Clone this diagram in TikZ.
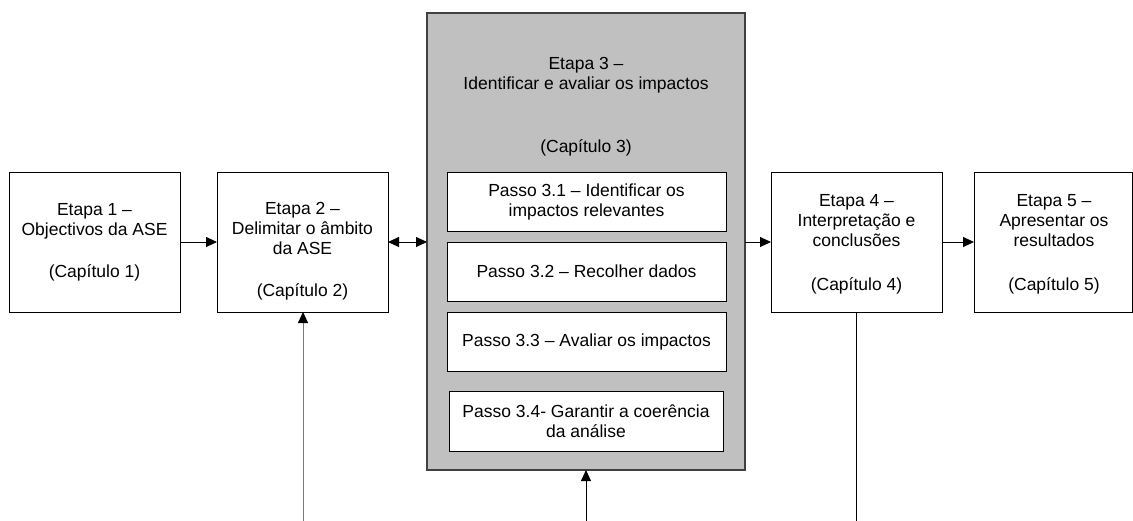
\documentclass[tikz,border=0pt]{standalone}
\usepackage{fontspec}
\setmainfont{Liberation Sans}
\usetikzlibrary{arrows.meta}
\definecolor{panelgray}{RGB}{192,192,192}
\definecolor{edgegray}{RGB}{64,64,64}
\definecolor{feedgray}{RGB}{120,120,120}
\begin{document}
\begin{tikzpicture}[x=1pt,y=-1pt,
  every node/.style={font=\fontsize{17.5}{20}\selectfont, inner sep=0pt, outer sep=0pt},
  stagebox/.style={draw=black, line width=0.9pt, fill=white, rectangle},
  stepbox/.style={draw=black, line width=0.9pt, fill=white, rectangle, minimum height=59pt},
  panel/.style={draw=edgegray, line width=1.3pt, fill=panelgray, rectangle},
  txt/.style={align=center},
  flow/.style={-{Triangle[length=11pt,width=10pt,color=black]}, line width=0.9pt, black},
  both/.style={{Triangle[length=11pt,width=10pt]}-{Triangle[length=11pt,width=10pt]}, line width=0.9pt, black}
]
\useasboundingbox (0,0) rectangle (1133,520);

% Stage boxes
\node[stagebox, minimum width=171pt, minimum height=140pt] (s1) at (94.5,242) {};
\node[stagebox, minimum width=171pt, minimum height=140pt] (s2) at (302.5,242) {};
\node[panel, minimum width=318pt, minimum height=457pt] (s3) at (586,241.5) {};
\node[stagebox, minimum width=171pt, minimum height=140pt] (s4) at (856.5,242) {};
\node[stagebox, minimum width=158pt, minimum height=140pt] (s5) at (1053,242) {};

% Texts of the stages
\node[txt] (t1) at (94.5,242) {Etapa 1 –\\Objectivos da ASE\\[22pt](Capítulo 1)};
\node[txt] (t2) at (302.5,251.5) {Etapa 2 –\\Delimitar o âmbito\\da ASE\\[22pt](Capítulo 2)};
\node[txt] (t3) at (586,75) {Etapa 3 –\\Identificar e avaliar os impactos};
\node[txt] (t3c) at (586,148) {(Capítulo 3)};
\node[txt] (t4) at (856.5,244) {Etapa 4 –\\Interpretação e\\conclusões\\[24pt](Capítulo 4)};
\node[txt] (t5) at (1054,244) {Etapa 5 –\\Apresentar os\\resultados\\[24pt](Capítulo 5)};

% Steps inside stage 3
\node[stepbox, minimum width=279pt, txt] (p1) at (586.5,201.5) {Passo 3.1 – Identificar os\\impactos relevantes};
\node[stepbox, minimum width=279pt, txt] (p2) at (586.5,271.5) {Passo 3.2 – Recolher dados};
\node[stepbox, minimum width=279pt, txt] (p3) at (586.5,341.5) {Passo 3.3 – Avaliar os impactos};
\node[stepbox, minimum width=274pt, minimum height=60pt, txt] (p4) at (586,421) {Passo 3.4- Garantir a coerência\\da análise};

% Free ends of the vertical connectors
\coordinate (f2) at (303,521);
\coordinate (f3) at (586,521);
\coordinate (f4) at (856,521);

% Connectors
\draw[flow] (s1.east) -- (s2.west);
\draw[both] (s2.east) -- (s3.west |- s2.east);
\draw[flow] (s3.east |- s4.west) -- (s4.west);
\draw[flow] (s4.east) -- (s5.west);
\draw[flow, feedgray] (f2) -- (f2 |- s2.south);
\draw[flow] (f3) -- (s3.south);
\draw[line width=0.9pt, black] (f4 |- s4.south) -- (f4);
\end{tikzpicture}
\end{document}
